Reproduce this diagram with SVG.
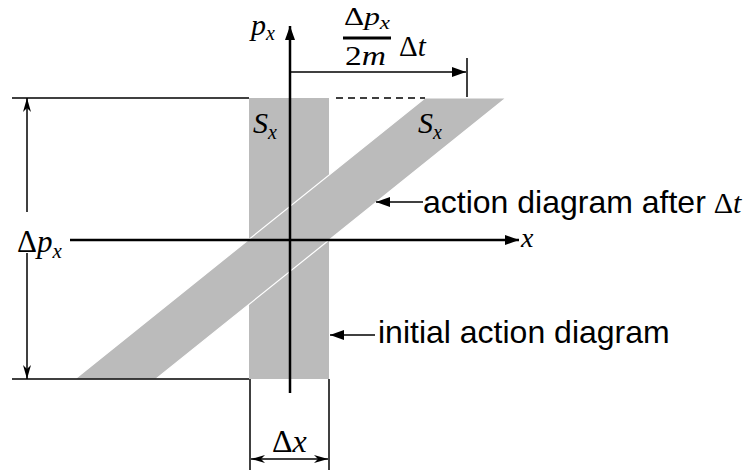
<svg xmlns="http://www.w3.org/2000/svg" width="749" height="470" viewBox="0 0 749 470">
<style>
.m{font-family:"Liberation Serif","Times New Roman",serif;fill:#000}
.i{font-style:italic}
.s{font-family:"Liberation Sans",Arial,sans-serif;font-size:32px;fill:#000}
.ln{stroke:#000;stroke-width:1.5;fill:none}
.ax{stroke:#000;stroke-width:2.5;fill:none}
.sh{fill:#bbbbbb}
</style>
<defs>
<marker id="ah" viewBox="0 0 14 10" refX="14" refY="5" markerWidth="14" markerHeight="10" markerUnits="userSpaceOnUse" orient="auto-start-reverse">
<path d="M0,0 L14,5 L0,10 Z" fill="#000"/>
</marker>
<marker id="ad" viewBox="0 0 14 10" refX="14" refY="5" markerWidth="14" markerHeight="10" markerUnits="userSpaceOnUse" orient="auto-start-reverse">
<path d="M0,1 L14,5 L0,9 L4,5 Z" fill="#000"/>
</marker>
</defs>
<g id="initial-diagram">
<rect class="sh" x="249" y="98" width="80" height="281"/>
</g>
<g id="diagram-after">
<path class="sh" d="M75,379 L425,98 L506,98 L156,379 Z" stroke="#fff" stroke-width="1.2"/>
</g>
<g id="connectors">
<line class="ax" x1="290" y1="393" x2="290" y2="26" marker-end="url(#ah)"/>
<line class="ax" x1="70" y1="240" x2="519" y2="240" marker-end="url(#ah)"/>
<line class="ln" x1="12" y1="98" x2="249" y2="98"/>
<line class="ln" x1="12" y1="379" x2="249" y2="379"/>
<line class="ln" x1="336" y1="98" x2="425" y2="98" stroke-dasharray="7,5"/>
<line class="ln" x1="27" y1="212" x2="27" y2="98" marker-end="url(#ad)"/>
<line class="ln" x1="27" y1="253" x2="27" y2="379" marker-end="url(#ad)"/>
<line class="ln" x1="250" y1="379" x2="250" y2="470"/>
<line class="ln" x1="329" y1="379" x2="329" y2="470"/>
<line class="ln" x1="251" y1="459" x2="328" y2="459" marker-start="url(#ad)" marker-end="url(#ad)"/>
<line class="ln" x1="291" y1="72" x2="466" y2="72" marker-end="url(#ah)"/>
<line class="ln" x1="467" y1="58" x2="467" y2="97"/>
<line class="ln" x1="423" y1="202" x2="376" y2="202" marker-end="url(#ah)"/>
<line class="ln" x1="375" y1="335" x2="330" y2="335" marker-end="url(#ah)"/>
<line x1="343" y1="38" x2="391" y2="38" stroke="#000" stroke-width="3"/>
</g>
<g id="labels">
<text class="m i" x="251" y="35" font-size="30">p<tspan font-size="20" dy="5">x</tspan></text>
<text class="m" x="344" y="25" font-size="26" textLength="46" lengthAdjust="spacingAndGlyphs">Δ<tspan class="i">p</tspan><tspan class="i" font-size="19" dy="4">x</tspan></text>
<text class="m" x="345" y="65" font-size="28" textLength="41" lengthAdjust="spacingAndGlyphs">2<tspan class="i">m</tspan></text>
<text class="m" x="399" y="56" font-size="29">Δ<tspan class="i">t</tspan></text>
<text class="m i" x="253" y="133" font-size="30">S<tspan font-size="20" dy="6">x</tspan></text>
<text class="m i" x="418" y="133" font-size="30">S<tspan font-size="20" dy="6">x</tspan></text>
<text class="m" x="17" y="252" font-size="31">Δ<tspan class="i">p</tspan><tspan class="i" font-size="21" dy="6">x</tspan></text>
<text class="m" x="272" y="452" font-size="32">Δ<tspan class="i">x</tspan></text>
<text class="m i" x="521" y="247" font-size="28">x</text>
<text class="s" x="423" y="213" font-size="32.5">action diagram after<tspan class="m" font-size="30" dx="8">Δ</tspan><tspan class="m i" font-size="30">t</tspan></text>
<text class="s" x="378" y="343">initial action diagram</text>
</g>
</svg>
